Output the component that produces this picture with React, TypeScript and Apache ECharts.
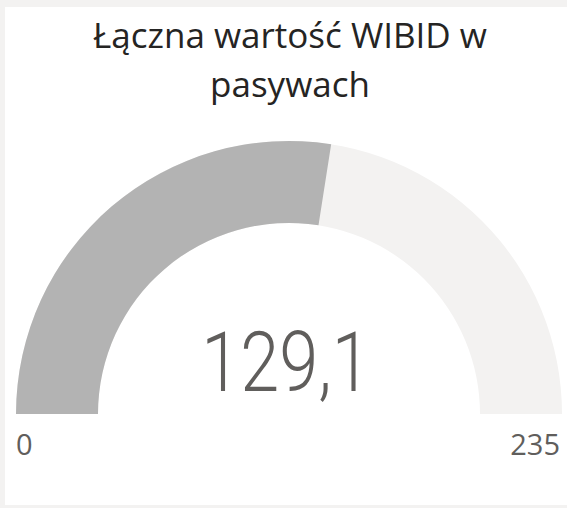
import React, { useEffect, useRef } from "react";
import * as echarts from "echarts";

const titleLines = ["Łączna wartość WIBID w", "pasywach"];
const gaugeMin = [0];
const gaugeMax = [235];
const gaugeValue = [129.1];

export default function App() {
  const ref = useRef<HTMLDivElement>(null);
  useEffect(() => {
    document.body.style.margin = "0";
    const chart = echarts.init(ref.current!, null, { renderer: "svg" });
    const fmt = (v: number) => v.toFixed(1).replace(".", ",");
    chart.setOption({
      animation: false,
      backgroundColor: "#f3f2f1",
      title: {
        text: titleLines.join("\n"),
        left: 285,
        textAlign: "center",
        top: 5,
        textStyle: {
          fontFamily: "Open Sans",
          fontWeight: "normal",
          fontSize: 35,
          lineHeight: 49,
          color: "#252423",
        },
      },
      graphic: [
        {
          type: "rect",
          z: -10,
          shape: { x: 5, y: 7, width: 562, height: 498 },
          style: { fill: "#ffffff" },
        },
        {
          type: "text",
          x: 16,
          y: 443,
          style: {
            text: String(gaugeMin[0]),
            font: "29px 'Open Sans'",
            fill: "#605e5c",
            align: "left",
            verticalAlign: "middle",
          },
        },
        {
          type: "text",
          x: 560,
          y: 443,
          style: {
            text: String(gaugeMax[0]),
            font: "29px 'Open Sans'",
            fill: "#605e5c",
            align: "right",
            verticalAlign: "middle",
          },
        },
        {
          type: "text",
          x: 286,
          y: 362,
          scaleX: 0.836,
          style: {
            text: fmt(gaugeValue[0]),
            font: "300 84px Roboto",
            fill: "#605e5c",
            align: "center",
            verticalAlign: "middle",
          },
        },
      ],
      series: [
        {
          type: "gauge",
          center: [289, 414],
          radius: 273,
          startAngle: 180,
          endAngle: 0,
          min: gaugeMin[0],
          max: gaugeMax[0],
          progress: {
            show: true,
            width: 82,
            roundCap: false,
            itemStyle: { color: "#b3b3b3" },
          },
          axisLine: {
            roundCap: false,
            lineStyle: { width: 82, color: [[1, "#f3f2f1"]] },
          },
          pointer: { show: false },
          axisTick: { show: false },
          splitLine: { show: false },
          axisLabel: { show: false },
          anchor: { show: false },
          title: { show: false },
          detail: { show: false },
          data: [{ value: gaugeValue[0] }],
        },
      ],
    });
    return () => chart.dispose();
  }, []);
  return <div ref={ref} style={{ width: 567, height: 508 }} />;
}
